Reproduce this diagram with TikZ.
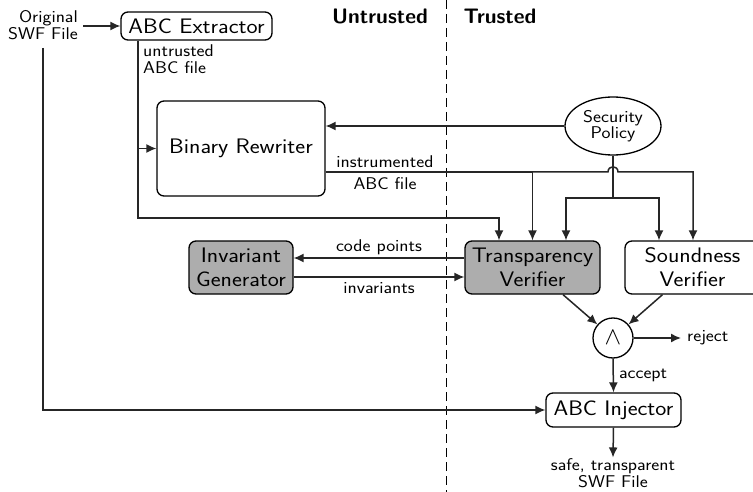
\documentclass[tikz,border=0pt]{standalone}
\usepackage{fontspec}
\newfontfamily\wsans{Latin Modern Sans}[FakeStretch=1.12]
\usetikzlibrary{shapes.geometric,arrows.meta,calc}
\begin{document}
\begin{tikzpicture}[x=1pt,y=-1pt,
  big/.style={font=\fontsize{21}{24}\selectfont\wsans},
  small/.style={font=\fontsize{17}{16.5}\selectfont\wsans},
  boxnode/.style={draw, line width=1.3pt, rounded corners=7pt, align=center, inner sep=0pt, big},
  grayfill/.style={fill=black!32},
  conn/.style={line width=1.5pt, draw=black!85},
  arr/.style={conn, -{Latex[length=10pt,width=9pt]}},
  lbl/.style={small, inner sep=1pt}
]
\useasboundingbox (0,0) rectangle (753,492);
\fill[white] (0,0) rectangle (753,492);

% divider
\draw[line width=1pt, dash pattern=on 9pt off 5pt] (446,0) -- (446,492);
\node[font=\fontsize{21}{24}\selectfont\sffamily\bfseries] (hu) at (380,16) {Untrusted};
\node[font=\fontsize{21}{24}\selectfont\sffamily\bfseries] (ht) at (500,16) {Trusted};

% nodes
\node[lbl, align=right, anchor=east] (orig) at (79,25) {Original\\SWF File};
\node[boxnode, minimum width=151, minimum height=28] (ext) at (196.5,26) {ABC Extractor};
\node[boxnode, minimum width=168, minimum height=95] (rew) at (241,148.5) {Binary Rewriter};
\node[draw, ellipse, line width=1.3pt, minimum width=96, minimum height=58, inner sep=0pt, align=center, small] (pol) at (613,126) {Security\\Policy};
\node[boxnode, grayfill, minimum width=135, minimum height=53] (tv) at (532.5,267.5) {Transparency\\Verifier};
\node[boxnode, minimum width=135, minimum height=53] (sv) at (692.5,267.5) {Soundness\\Verifier};
\node[boxnode, grayfill, minimum width=104, minimum height=53] (ig) at (241,267.5) {Invariant\\Generator};
\node[draw, circle, line width=1.3pt, minimum size=40, inner sep=0pt, font=\fontsize{24}{24}\selectfont] (and) at (613,338) {$\wedge$};
\node[boxnode, minimum width=135, minimum height=34] (inj) at (613.5,410) {ABC Injector};
\node[lbl, align=center] (out) at (613,473) {safe, transparent\\SWF File};
\node[lbl, anchor=west] (rej) at (686,338) {reject};

% labels
\node[lbl, anchor=north west, align=left] (ua) at (142,44) {untrusted\\ABC file};
\node[lbl] (ins1) at (385,162) {instrumented};
\node[lbl] (ins2) at (385,184) {ABC file};
\node[lbl] (cp) at (379,247) {code points};
\node[lbl] (iv) at (379,288) {invariants};

% coordinates
\coordinate (c1) at (138,218);
\coordinate (p1) at (613,198);
\coordinate (rj) at (681,338);

% connectors
\draw[arr] (orig.east |- ext.west) ++(4,0) -- (ext.west);
\draw[arr] (ext.south -| c1) -- (c1) -| ($(tv.north)+(-33.5,0)$);
\draw[arr] (c1 |- rew.west) -- (rew.west);
\draw[arr] (pol.west) -- (rew.east |- pol.west);
\draw[arr] (rew.east |- 0,172) -- (tv.north |- 0,172) -- (tv.north);
\draw[arr] (tv.north |- 0,172) -- (608,172) .. controls (608,165) and (618,165) .. (618,172) -| ($(sv.north)+(0.5,0)$);
\draw[arr] (pol.south) -- (p1) -| ($(tv.north)+(33.5,0)$);
\draw[arr] (p1) -| ($(sv.north)+(-33.5,0)$);
\draw[arr] ($(tv.west)+(0,-9.5)$) -- ($(ig.east)+(0,-9.5)$);
\draw[arr] ($(ig.east)+(0,9.5)$) -- ($(tv.west)+(0,9.5)$);
\draw[arr] ($(tv.south)+(30.5,0)$) -- (and);
\draw[arr] ($(sv.south)+(-30,0)$) -- (and);
\draw[arr] (and.east) -- (rj);
\draw[arr] (and.south) -- node[lbl, right=4pt] {accept} (inj.north);
\draw[arr] (43,48) -- (43,0 |- inj.west) -- (inj.west);
\draw[arr] (inj.south) -- (out.north);
\end{tikzpicture}
\end{document}
